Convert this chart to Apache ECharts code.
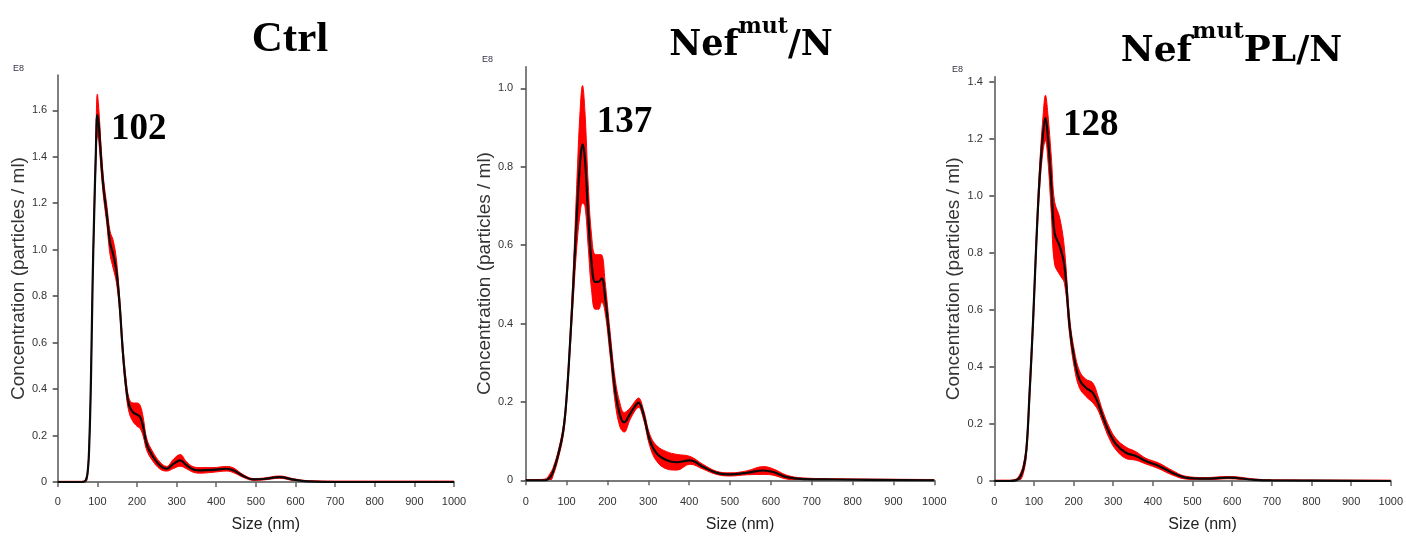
<!DOCTYPE html>
<html>
<head>
<meta charset="utf-8">
<script src="https://cdn.jsdelivr.net/npm/echarts@6/dist/echarts.min.js"></script>
<style>
html,body{margin:0;padding:0;background:#fff;}
#chart{width:1406px;height:538px;}
</style>
</head>
<body>
<div id="chart"></div>
<script>
// ---------- DATA ----------
const titleMain = ['Ctrl', 'Nef', 'Nef'];
const titleSup = ['', 'mut', 'mut'];
const titleTail = ['', '/N', 'PL/N'];
const peakLabels = ['102', '137', '128'];
const xTicks = [0, 100, 200, 300, 400, 500, 600, 700, 800, 900, 1000];
const yTicksCtrl = [0, 0.2, 0.4, 0.6, 0.8, 1.0, 1.2, 1.4, 1.6];
const yTicksNef = [0, 0.2, 0.4, 0.6, 0.8, 1.0];
const yTicksPL = [0, 0.2, 0.4, 0.6, 0.8, 1.0, 1.2, 1.4];

// Ctrl
const ctrlSize = [0,40,60,70,76,80,84,88,92,96,100,104,110,116,124,132,140,148,156,164,172,180,190,200,208,216,225,240,258,275,292,309,325,342,360,392,426,444,468,494,520,560,595,630,700,1000];
const ctrlMean = [0,0,0,0.005,0.05,0.18,0.45,0.85,1.15,1.40,1.58,1.53,1.38,1.26,1.15,1.03,0.98,0.91,0.77,0.57,0.42,0.33,0.30,0.29,0.28,0.235,0.16,0.11,0.071,0.057,0.078,0.093,0.072,0.054,0.05,0.052,0.057,0.05,0.026,0.011,0.013,0.021,0.010,0.003,0,0];
const ctrlErr  = [0.003,0.003,0.003,0.005,0.01,0.015,0.02,0.03,0.04,0.05,0.09,0.07,0.05,0.04,0.04,0.05,0.06,0.05,0.03,0.03,0.03,0.03,0.04,0.05,0.05,0.04,0.025,0.02,0.015,0.01,0.02,0.025,0.015,0.012,0.012,0.01,0.01,0.01,0.006,0.004,0.004,0.005,0.004,0.003,0.004,0.004];

// Nef mut / N
const nefSize = [0,30,47,60,68,80,92,100,108,117,125,133,139,145,153,161,170,178,186,194,206,219,231,241,255,268,276,288,304,321,345,370,402,435,467,500,541,582,606,639,679,760,1000];
const nefMean = [0,0,0,0.008,0.025,0.067,0.127,0.21,0.34,0.51,0.675,0.81,0.857,0.82,0.675,0.557,0.506,0.506,0.515,0.47,0.354,0.228,0.165,0.148,0.169,0.19,0.198,0.169,0.101,0.068,0.051,0.046,0.051,0.034,0.019,0.015,0.019,0.025,0.021,0.008,0.003,0.002,0];
const nefErr  = [0.002,0.002,0.003,0.01,0.01,0.01,0.012,0.015,0.02,0.04,0.08,0.13,0.15,0.12,0.08,0.07,0.07,0.07,0.06,0.04,0.03,0.03,0.03,0.025,0.015,0.012,0.012,0.012,0.015,0.02,0.022,0.02,0.01,0.006,0.004,0.004,0.005,0.01,0.008,0.005,0.003,0.002,0.002];

// Nef mut PL / N
const plSize = [0,20,40,56,64,73,81,89,98,106,114,123,129,135,144,152,165,177,190,202,215,231,248,261,273,290,307,332,357,382,415,449,482,532,591,657,699,1000];
const plMean = [0,0,0,0.003,0.012,0.041,0.111,0.31,0.567,0.836,1.058,1.221,1.274,1.21,1.034,0.871,0.824,0.754,0.543,0.427,0.356,0.327,0.31,0.275,0.228,0.169,0.129,0.099,0.088,0.07,0.053,0.029,0.012,0.008,0.012,0.004,0.002,0];
const plErr  = [0.003,0.003,0.003,0.005,0.01,0.015,0.02,0.03,0.03,0.03,0.04,0.06,0.08,0.08,0.1,0.11,0.1,0.06,0.03,0.03,0.03,0.03,0.035,0.025,0.02,0.02,0.02,0.02,0.015,0.01,0.01,0.008,0.005,0.004,0.004,0.003,0.002,0.003];

// ---------- LAYOUT ----------
const labelFont = "'Liberation Sans Narrow','Arial Narrow','Liberation Sans',sans-serif";
const serif = "'Liberation Serif','Times New Roman',serif";
const wideSerif = "'DejaVu Serif','Liberation Serif',serif";

const panels = [
  {size: ctrlSize, mean: ctrlMean, err: ctrlErr, yTicks: yTicksCtrl, yMax: 1.752,
   grid: {left: 57.7, top: 75, width: 396.3, height: 410}, yGap: 29, xGap: 35, xLabelMargin: 14, yLabelMargin: 10.5,
   peakOffset: [13.7, 14.2], e8: [13, 64],
   title: {x: 290, y: 15, font: serif, size: 43, sup: 27, pad: 30}},
  {size: nefSize, mean: nefMean, err: nefErr, yTicks: yTicksNef, yMax: 1.055,
   grid: {left: 525.7, top: 66.7, width: 408.6, height: 416.6}, yGap: 29, xGap: 36.7, xLabelMargin: 16, yLabelMargin: 12.5,
   peakOffset: [14.2, -21.5], e8: [482, 55],
   title: {x: 751, y: 17, font: wideSerif, size: 35, sup: 22, pad: 25}},
  {size: plSize, mean: plMean, err: plErr, yTicks: yTicksPL, yMax: 1.419,
   grid: {left: 994.3, top: 76.7, width: 399, height: 405}, yGap: 28, xGap: 36, xLabelMargin: 15, yLabelMargin: 11.5,
   peakOffset: [17.5, 7.6], e8: [952, 65],
   title: {x: 1231.5, y: 24, font: wideSerif, size: 36, sup: 23, pad: 26}}
];

const option = {
  animation: false,
  backgroundColor: '#fff',
  grid: [], xAxis: [], yAxis: [], series: [], graphic: []
};

panels.forEach((p, i) => {
  option.grid.push(Object.assign({containLabel: false}, p.grid));
  option.xAxis.push({
    type: 'value', gridIndex: i, min: 0, max: 1000, interval: 100, z: 4,
    name: 'Size (nm)', nameLocation: 'middle', nameGap: p.xGap,
    nameTextStyle: {fontFamily: labelFont, fontSize: 16, color: '#222', padding: [0, 0, 0, 20]},
    axisLine: {show: true, onZero: false, lineStyle: {color: '#7a7a7a', width: 2}},
    axisTick: {show: true, length: 5, lineStyle: {color: '#666', width: 1.5}, customValues: xTicks},
    axisLabel: {fontFamily: labelFont, fontSize: 11, color: '#333', margin: p.xLabelMargin,
      customValues: xTicks, formatter: v => String(v)},
    splitLine: {show: false}
  });
  option.yAxis.push({
    type: 'value', gridIndex: i, min: 0, max: p.yMax, z: 4,
    name: 'Concentration (particles / ml)', nameLocation: 'middle', nameGap: p.yGap,
    nameTextStyle: {fontFamily: "'Liberation Sans',Arial,sans-serif", fontSize: 19, color: '#333'},
    axisLine: {show: true, lineStyle: {color: '#555', width: 1.5}},
    axisTick: {show: true, length: 5, lineStyle: {color: '#444', width: 1.5}, customValues: p.yTicks},
    axisLabel: {fontFamily: labelFont, fontSize: 11, color: '#333', margin: p.yLabelMargin,
      customValues: p.yTicks, formatter: v => (v === 0 ? '0' : v.toFixed(1))},
    splitLine: {show: false}
  });
  const upper = p.size.map((x, k) => [x, p.mean[k] + p.err[k]]);
  const lower = p.size.map((x, k) => [x, Math.max(0, p.mean[k] - p.err[k])]);
  const mean = p.size.map((x, k) => [x, p.mean[k]]);
  let pk = 0;
  p.mean.forEach((v, k) => { if (v > p.mean[pk]) pk = k; });
  const sm = {symbol: 'none', smooth: 0.4, silent: true, xAxisIndex: i, yAxisIndex: i};
  option.series.push(Object.assign({
    type: 'line', data: upper, z: 2,
    lineStyle: {width: 1, color: '#ff0000'},
    areaStyle: {color: '#ff0000', opacity: 1, origin: 'start'}
  }, sm));
  option.series.push(Object.assign({
    type: 'line', data: lower, z: 3,
    lineStyle: {width: 1, color: '#ff0000'},
    areaStyle: {color: '#ffffff', opacity: 1, origin: 'start'}
  }, sm));
  option.series.push(Object.assign({
    type: 'line', data: mean, z: 5,
    lineStyle: {width: 2.2, color: '#0a0a0a'},
    markPoint: {
      symbol: 'circle', symbolSize: 0, silent: true,
      data: [{coord: [p.size[pk], p.mean[pk]]}],
      label: {show: true, formatter: peakLabels[i], position: 'inside', align: 'left', verticalAlign: 'middle',
        offset: p.peakOffset, fontFamily: serif, fontWeight: 'bold', fontSize: 37, color: '#000'}
    }
  }, sm));
  option.graphic.push({
    type: 'text', x: p.e8[0], y: p.e8[1],
    style: {text: 'E8', font: "9px " + labelFont, fill: '#334', align: 'left', verticalAlign: 'top'}
  });
  let txt = '{b|' + titleMain[i] + '}';
  if (titleSup[i]) txt += '{s|' + titleSup[i] + '}';
  if (titleTail[i]) txt += '{b|' + titleTail[i] + '}';
  const t = p.title;
  option.graphic.push({
    type: 'text', x: t.x, y: t.y,
    style: {
      text: txt, align: 'center', verticalAlign: 'top',
      rich: {
        b: {fontFamily: t.font, fontWeight: 'bold', fontSize: t.size, lineHeight: 46, verticalAlign: 'bottom', fill: '#000'},
        s: {fontFamily: t.font, fontWeight: 'bold', fontSize: t.sup, lineHeight: t.sup, padding: [0, 0, t.pad, 0], verticalAlign: 'bottom', fill: '#000'}
      }
    }
  });
});

const chart = echarts.init(document.getElementById('chart'), null, {renderer: 'canvas'});
chart.setOption(option);
</script>
</body>
</html>
